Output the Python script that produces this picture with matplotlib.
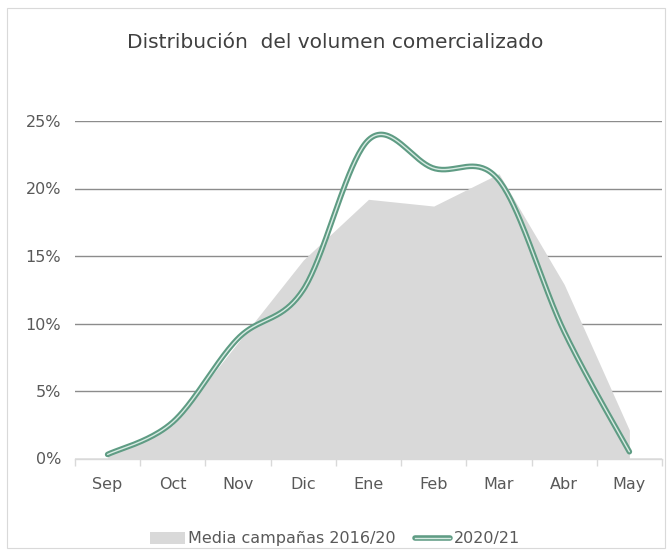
import matplotlib
matplotlib.use("Agg")
import matplotlib.pyplot as plt
import numpy as np
from matplotlib.lines import Line2D
from matplotlib.patches import Patch, Rectangle

months = ["Sep", "Oct", "Nov", "Dic", "Ene", "Feb", "Mar", "Abr", "May"]
media_2016_20 = [0.3, 2.5, 8.6, 14.7, 19.2, 18.7, 21.1, 12.9, 2.1]
campaign_2020_21 = [0.3, 2.7, 8.9, 12.5, 23.6, 21.5, 20.6, 9.4, 0.5]
yticks = [0, 5, 10, 15, 20, 25]
ytick_labels = ["0%", "5%", "10%", "15%", "20%", "25%"]

title = "Distribución  del volumen comercializado"
label_media = "Media campañas 2016/20"
label_new = "2020/21"

GREEN = "#5f9c84"
INNER = "#d8ebe3"
AREA = "#d9d9d9"
TXT = "#595959"


def catmull_rom(x, y, n=40):
    x = np.asarray(x, float)
    y = np.asarray(y, float)
    xs, ys = [], []
    N = len(x)
    for i in range(N - 1):
        p0 = i - 1 if i > 0 else i
        p3 = i + 2 if i + 2 < N else i + 1
        t = np.linspace(0, 1, n, endpoint=(i == N - 2))
        mx0 = (x[i + 1] - x[p0]) / 2
        mx1 = (x[p3] - x[i]) / 2
        my0 = (y[i + 1] - y[p0]) / 2
        my1 = (y[p3] - y[i]) / 2
        h00 = 2 * t**3 - 3 * t**2 + 1
        h10 = t**3 - 2 * t**2 + t
        h01 = -2 * t**3 + 3 * t**2
        h11 = t**3 - t**2
        xs.append(h00 * x[i] + h10 * mx0 + h01 * x[i + 1] + h11 * mx1)
        ys.append(h00 * y[i] + h10 * my0 + h01 * y[i + 1] + h11 * my1)
    return np.concatenate(xs), np.concatenate(ys)


fig = plt.figure(figsize=(6.7, 5.54), dpi=100)
fig.patches.append(Rectangle((0.010, 0.010), 0.982, 0.976, transform=fig.transFigure,
                             fill=False, edgecolor="#d9d9d9", linewidth=0.8))

ax = fig.add_axes([75 / 670, 1 - 458.5 / 554, (662 - 75) / 670, (458.5 - 121) / 554])
xpos = np.arange(len(months))

ax.fill_between(xpos, 0, media_2016_20, color=AREA, linewidth=0, zorder=1)
sx, sy = catmull_rom(xpos, campaign_2020_21)
ax.plot(sx, sy, color=GREEN, linewidth=4.0, solid_capstyle="round", zorder=3)
ax.plot(sx, sy, color=INNER, linewidth=1.0, solid_capstyle="round", zorder=4)

ax.set_xlim(-0.5, len(months) - 0.5)
ax.set_ylim(0, 25)
ax.set_yticks(yticks)
ax.set_yticklabels(ytick_labels)
ax.yaxis.grid(True, color="#8c8c8c", linewidth=1.0)
ax.set_axisbelow(True)
for s in ["left", "right", "top"]:
    ax.spines[s].set_visible(False)
ax.spines["bottom"].set_color("#d9d9d9")
ax.spines["bottom"].set_linewidth(1.0)
ax.spines["bottom"].set_zorder(0.5)

ax.set_xticks(xpos)
ax.set_xticklabels(months)
ax.set_xticks(np.arange(-0.5, len(months), 1), minor=True)
ax.tick_params(axis="x", which="major", length=0, pad=13, labelsize=11.5, labelcolor=TXT)
ax.tick_params(axis="x", which="minor", length=5, color="#d9d9d9", width=1.0)
ax.tick_params(axis="y", length=0, pad=10, labelsize=11.5, labelcolor=TXT)

fig.text(0.5, 1 - 42 / 554, title, ha="center", va="center", fontsize=14.5, color="#404040")

h_area = Patch(facecolor=AREA, edgecolor="none")
h_line = (Line2D([], [], color=GREEN, linewidth=4.0, solid_capstyle="round"),
          Line2D([], [], color=INNER, linewidth=1.0))
leg = fig.legend([h_area, h_line], [label_media, label_new], loc="center",
                 bbox_to_anchor=(0.5, 1 - 539 / 554), ncol=2, frameon=False,
                 fontsize=11.5, handlelength=2.2, handletextpad=0.2, columnspacing=1.2)
for t in leg.get_texts():
    t.set_color(TXT)

fig.savefig("out.png", dpi=100)
